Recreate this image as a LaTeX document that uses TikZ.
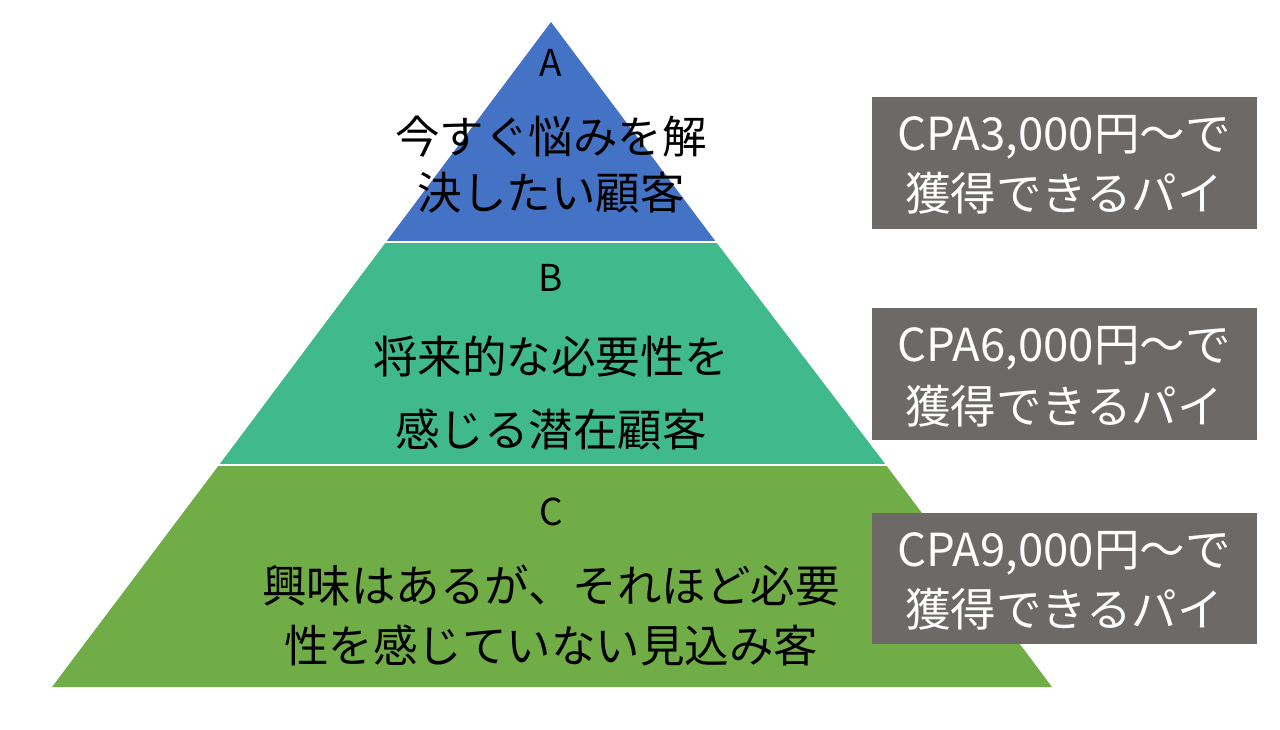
\documentclass[tikz,border=0pt]{standalone}
\usepackage{fontspec}
\setmainfont{Noto Sans CJK JP}
\begin{document}
\begin{tikzpicture}[x=1pt,y=1pt,
  lvl/.style={font=\fontsize{37}{37}\selectfont, text=black, inner sep=0pt},
  txt/.style={font=\fontsize{44.5}{44.5}\selectfont, text=black, inner sep=0pt},
  boxtxt/.style={font=\fontsize{45.5}{45.5}\selectfont, text=white, inner sep=0pt},
  graybox/.style={fill=boxgray, draw=none}]
\definecolor{tierA}{HTML}{4472C4}
\definecolor{tierB}{HTML}{40BA8C}
\definecolor{tierC}{HTML}{70AD47}
\definecolor{boxgray}{HTML}{6D6967}
\useasboundingbox (0,0) rectangle (1280,729);
% tiers (y = 729 - pixel y)
\fill[tierC] (219,264) -- (886,264) -- (1052,42) -- (52,42) -- cycle;
\fill[tierB] (386,487) -- (716,487) -- (886,264) -- (219,264) -- cycle;
\fill[tierA] (551,707) -- (716,487) -- (386,487) -- cycle;
\draw[white, line width=2pt] (200,487) -- (740,487);
\draw[white, line width=2pt] (200,264) -- (900,264);
% tier texts
\node[lvl] (la) at (551,666) {A};
\node[txt] (a1) at (551,592) {今すぐ悩みを解};
\node[txt] (a2) at (551,536) {決したい顧客};
\node[lvl] (lb) at (551,451) {B};
\node[txt] (b1) at (551,372) {将来的な必要性を};
\node[txt] (b2) at (551,299) {感じる潜在顧客};
\node[lvl] (lc) at (551,217) {C};
\node[txt] (c1) at (551,144) {興味はあるが、それほど必要};
\node[txt] (c2) at (551,84) {性を感じていない見込み客};
% boxes
\fill[boxgray] (872,500) rectangle (1257,632);
\fill[boxgray] (872,289) rectangle (1257,421);
\fill[boxgray] (872,85) rectangle (1257,216);
\node[boxtxt] (p1) at (1064,592) {CPA3,000円～で};
\node[boxtxt] (q1) at (1064,536) {獲得できるパイ};
\node[boxtxt] (p2) at (1064,381) {CPA6,000円～で};
\node[boxtxt] (q2) at (1064,323) {獲得できるパイ};
\node[boxtxt] (p3) at (1064,176) {CPA9,000円～で};
\node[boxtxt] (q3) at (1064,120) {獲得できるパイ};
\end{tikzpicture}
\end{document}
